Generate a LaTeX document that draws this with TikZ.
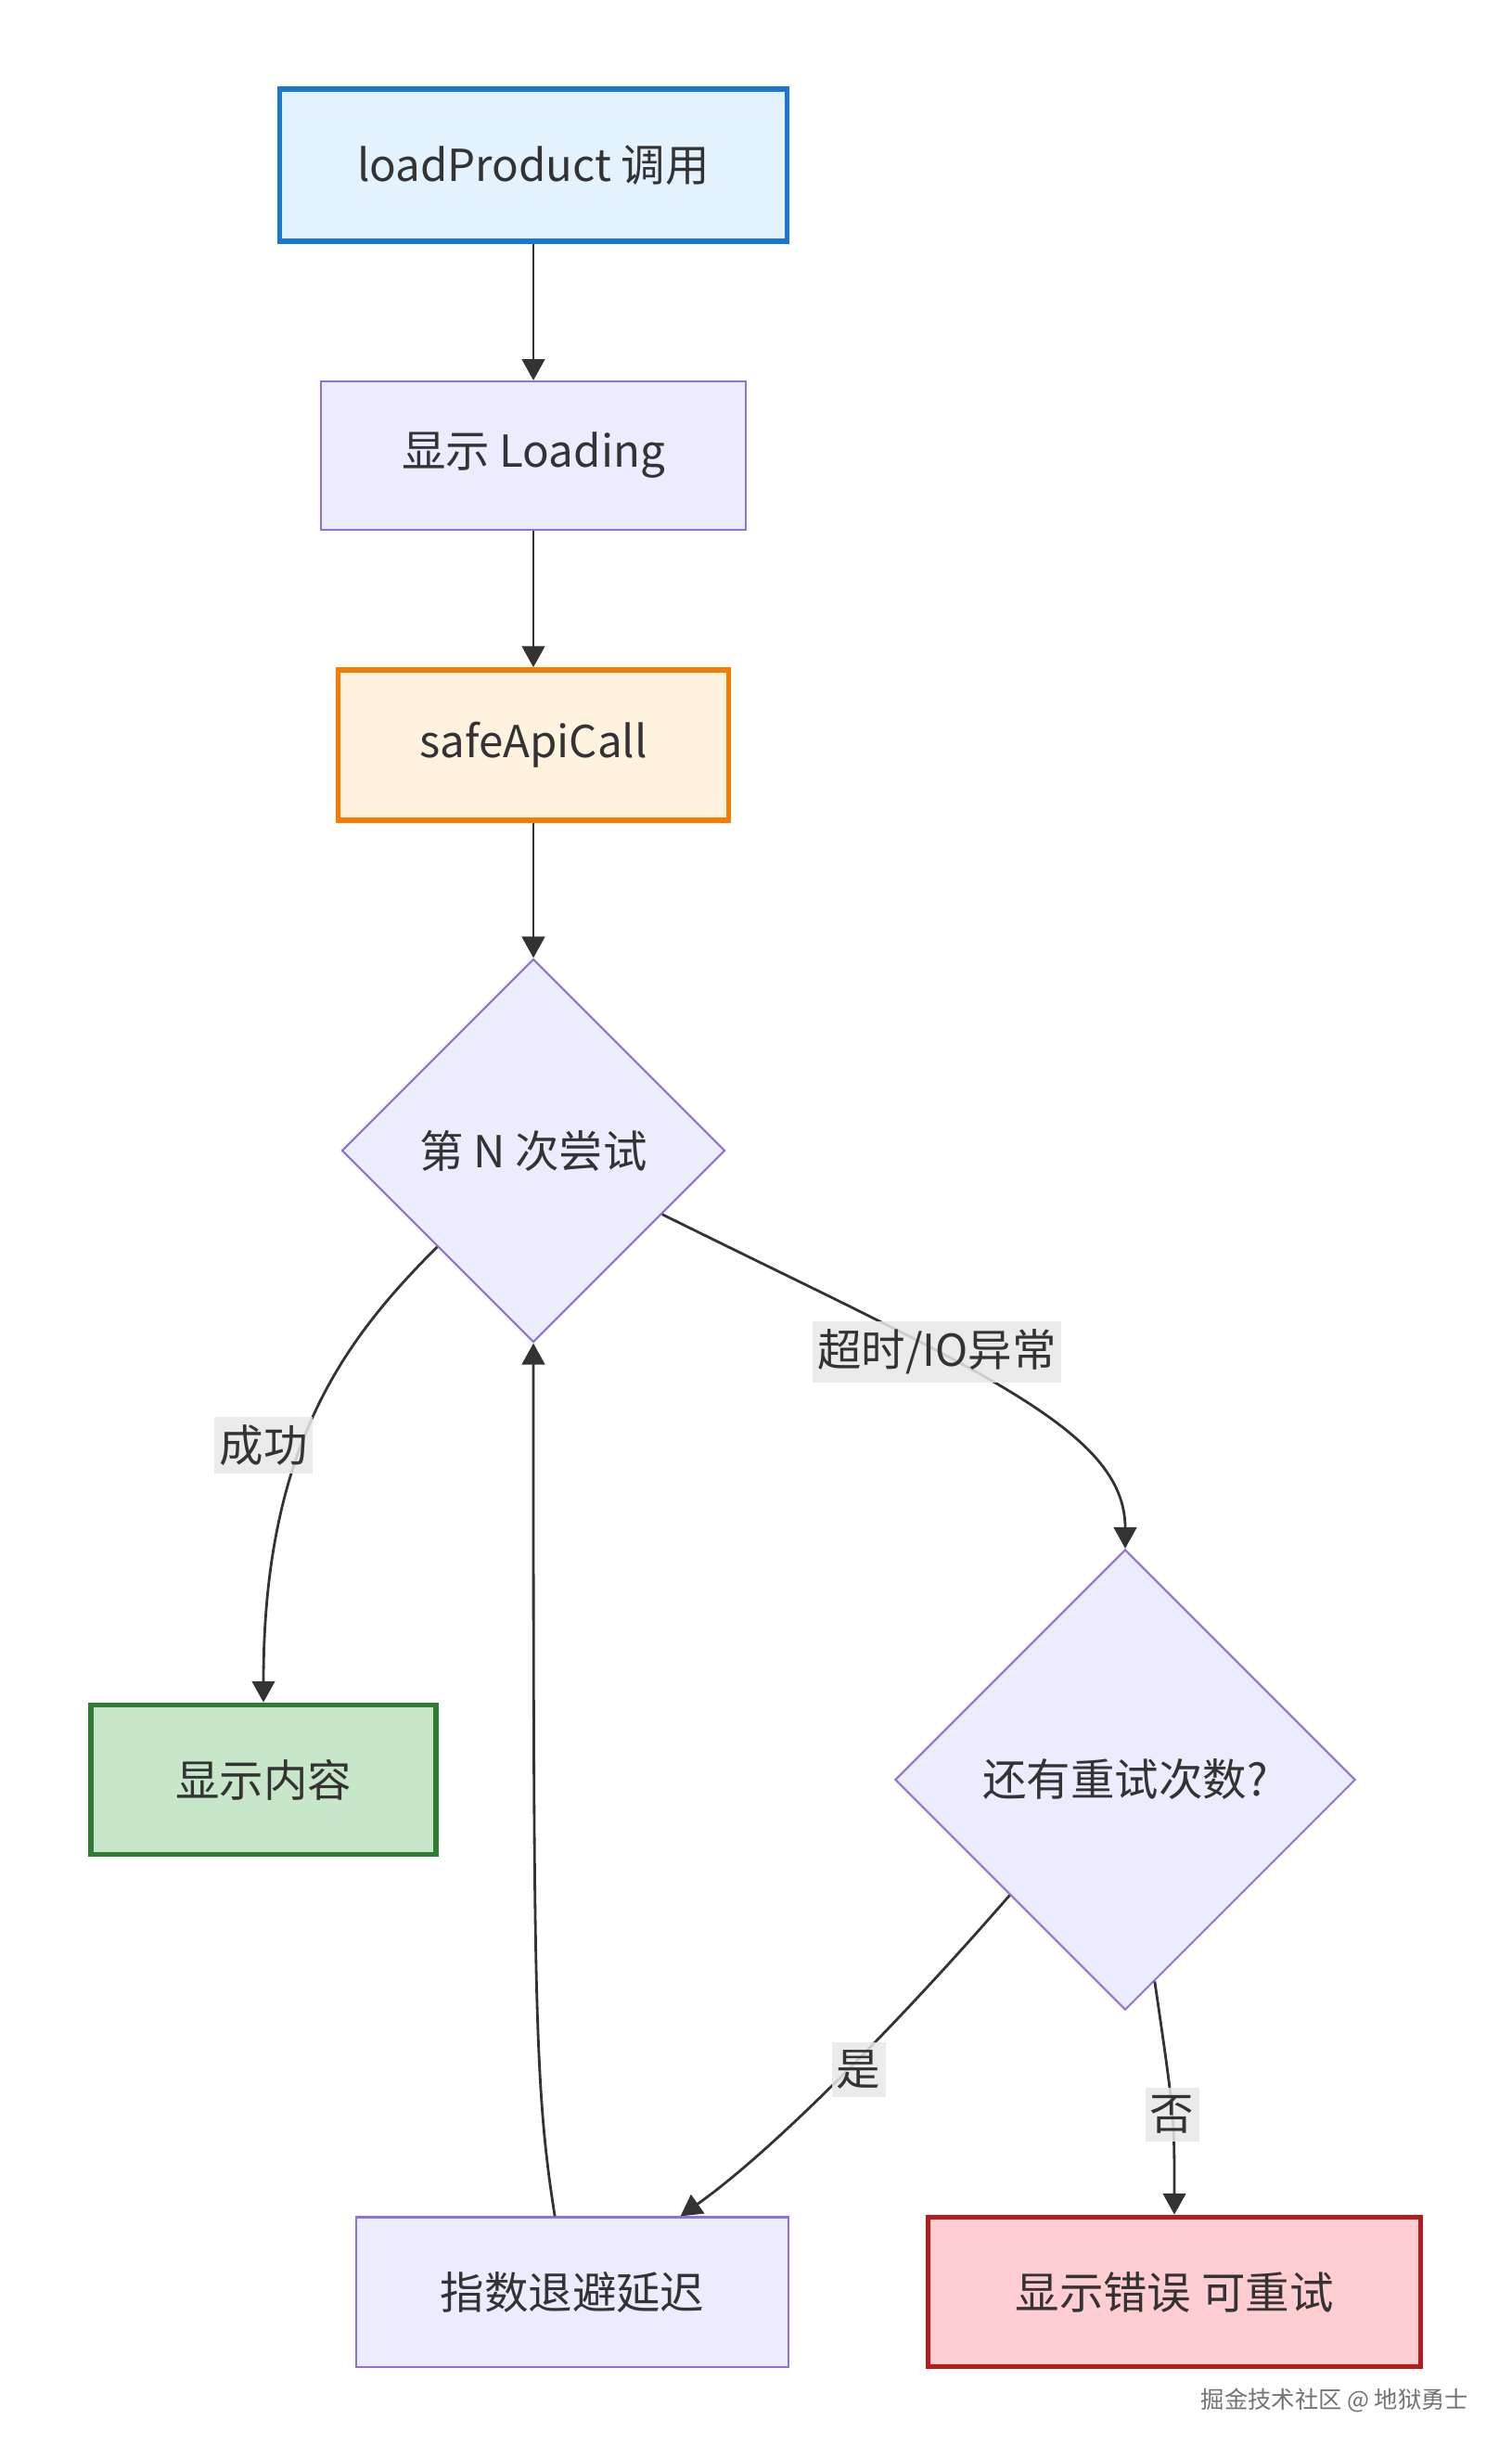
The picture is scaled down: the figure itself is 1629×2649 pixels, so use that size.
\documentclass[tikz,border=0pt]{standalone}
\usepackage{fontspec}
\setmainfont{Noto Sans CJK SC}
\usetikzlibrary{shapes.geometric,arrows.meta}

\begin{document}
\begin{tikzpicture}[x=0.01cm,y=-0.01cm,
        texto/.style={text=txt,font=\fontsize{13.5}{16}\selectfont},
        caja/.style={texto,draw=lila,fill=lilaf,line width=0.6pt,minimum height=1.61cm},
        fuerte/.style={line width=1.6pt},
        rombo/.style={texto,diamond,aspect=1,inner sep=0pt,draw=lila,fill=lilaf,line width=0.6pt},
        flecha/.style={draw=txt,line width=0.8pt,-{Triangle[length=6.5pt,width=7pt]}},
        etiqueta/.style={texto,fill=gris,fill opacity=0.85,text opacity=1,inner xsep=1.5pt,inner ysep=2.5pt}]
        %colores
        \definecolor{txt}{HTML}{333333}
        \definecolor{lila}{HTML}{9370DB}
        \definecolor{lilaf}{HTML}{ECECFF}
        \definecolor{gris}{HTML}{E8E8E8}
        \definecolor{azul}{HTML}{1976D2}
        \definecolor{azulf}{HTML}{E3F2FD}
        \definecolor{naranja}{HTML}{F57C00}
        \definecolor{naranjaf}{HTML}{FFF3E0}
        \definecolor{verde}{HTML}{2E7D32}
        \definecolor{verdef}{HTML}{C8E6C9}
        \definecolor{rojo}{HTML}{B71C1C}
        \definecolor{rojof}{HTML}{FFCDD2}

        \useasboundingbox (0,0) rectangle (1629,2649);

        % Cajas de arriba
        \node[caja,fuerte,draw=azul,fill=azulf,minimum width=5.47cm,minimum height=1.64cm] (carga) at (575,178) {loadProduct 调用};
        \node[caja,minimum width=4.57cm,minimum height=1.60cm] (loading) at (575,491) {显示 Loading};
        \node[caja,fuerte,draw=naranja,fill=naranjaf,minimum width=4.21cm,minimum height=1.62cm] (api) at (575,803) {safeApiCall};

        % Decisiones
        \node[rombo,minimum width=4.13cm,minimum height=4.13cm] (intento) at (575,1240) {第 N 次尝试};
        \node[rombo,minimum width=4.96cm,minimum height=4.96cm] (quedan) at (1213,1918) {还有重试次数?};

        % Cajas de abajo
        \node[caja,fuerte,draw=verde,fill=verdef,minimum width=3.72cm] (contenido) at (284,1918) {显示内容};
        \node[caja,minimum width=4.66cm] (espera) at (617,2470) {指数退避延迟};
        \node[caja,fuerte,draw=rojo,fill=rojof,minimum width=5.31cm] (error) at (1266,2470) {显示错误 可重试};

        % Flechas
        \draw[flecha] (carga) -- (loading);
        \draw[flecha] (loading) -- (api);
        \draw[flecha] (api) -- (intento);
        \draw[flecha] (intento.south west) .. controls (370,1445) and (284,1560) .. (contenido.north)
            node[etiqueta,pos=0.57,xshift=-0.42cm] (lexito) {成功};
        \draw[flecha] (intento) .. controls (1050,1475) and (1213,1540) .. (quedan.north)
            node[etiqueta,pos=0.36] (lfallo) {超时/IO异常};
        \draw[flecha] (quedan.south west) .. controls (960,2190) and (830,2320) .. (espera.35)
            node[etiqueta,pos=0.46,xshift=0.12cm] (lsi) {是};
        \draw[flecha] (quedan) .. controls (1266,2280) .. (error.north)
            node[etiqueta,pos=0.52] (lno) {否};
        \draw[flecha] (espera.103) .. controls (576,2250) and (575,2150) .. (intento.south);

        % marca de agua
        \node[text=black!55,font=\fontsize{7.2}{9}\selectfont] (marca) at (1439,2587) {掘金技术社区 @ 地狱勇士};
\end{tikzpicture}
\end{document}
